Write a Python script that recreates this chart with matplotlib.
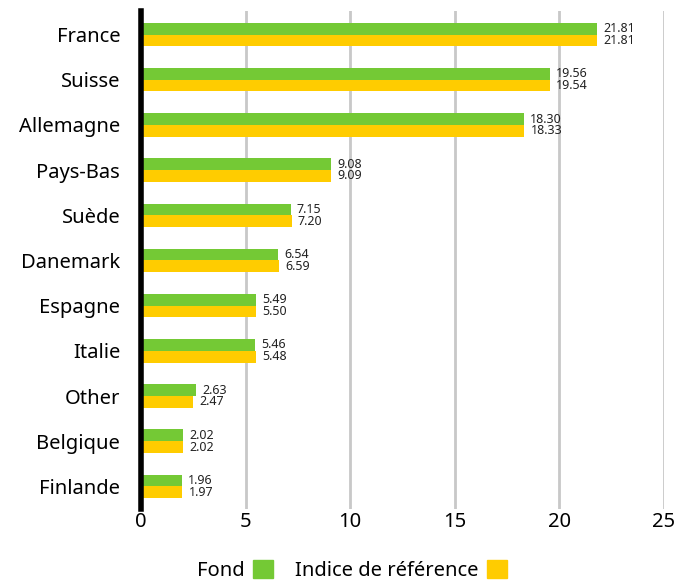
import numpy as np
import matplotlib.pyplot as plt
from matplotlib.patches import Patch

plt.rcParams["font.family"] = ["Noto Sans", "DejaVu Sans"]

pays = ["France", "Suisse", "Allemagne", "Pays-Bas", "Suède", "Danemark",
        "Espagne", "Italie", "Other", "Belgique", "Finlande"]
fond = [21.81, 19.56, 18.30, 9.08, 7.15, 6.54, 5.49, 5.46, 2.63, 2.02, 1.96]
indice = [21.81, 19.54, 18.33, 9.09, 7.20, 6.59, 5.50, 5.48, 2.47, 2.02, 1.97]

vert = "#74c935"
jaune = "#ffcc00"

fig = plt.figure(figsize=(6.78, 5.83), dpi=100)
ax = fig.add_axes([0.208, 0.127, 0.771, 0.854])

y = np.arange(len(pays))
h = 0.26
ax.barh(y - h / 2, fond, height=h, color=vert, zorder=3)
ax.barh(y + h / 2, indice, height=h, color=jaune, zorder=3)

for i in range(len(pays)):
    ax.text(fond[i] + 0.3, y[i] - h / 2, f"{fond[i]:.2f}", va="center",
            ha="left", fontsize=9, color="#222222")
    ax.text(indice[i] + 0.3, y[i] + h / 2, f"{indice[i]:.2f}", va="center",
            ha="left", fontsize=9, color="#222222")

ax.set_xlim(0, 25)
ax.set_ylim(len(pays) - 0.5, -0.52)
ax.set_xticks([0, 5, 10, 15, 20, 25])
ax.set_yticks(y)
ax.set_yticklabels(pays)
ax.tick_params(axis="both", length=0, labelsize=14.5)
ax.tick_params(axis="y", pad=15)
ax.tick_params(axis="x", pad=2)

ax.grid(axis="x", color="#c8c8c8", linewidth=2, zorder=0)
for s in ["top", "right", "bottom"]:
    ax.spines[s].set_visible(False)
ax.spines["left"].set_linewidth(4)
ax.spines["left"].set_color("black")
ax.spines["left"].set_zorder(4)

handles = [Patch(color=vert), Patch(color=jaune)]
fig.legend(handles, ["Fond", "Indice de référence"], loc="center",
           bbox_to_anchor=(0.519, 0.022), ncol=2, frameon=False,
           markerfirst=False, fontsize=14.5, handlelength=1.0, handleheight=1.0,
           handletextpad=0.4, columnspacing=1.1)

fig.savefig("out.png", dpi=100)
